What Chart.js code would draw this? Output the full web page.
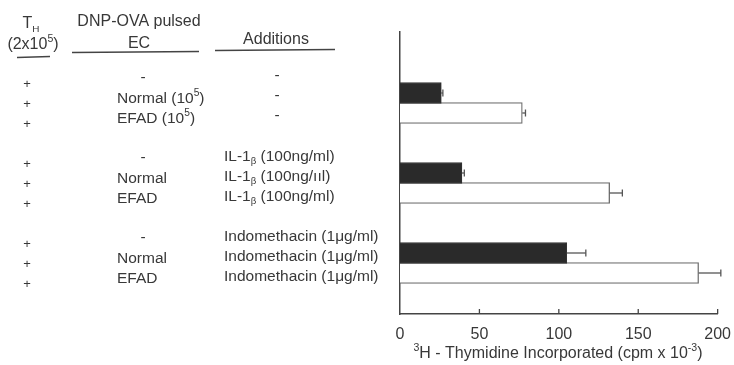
<!DOCTYPE html>
<html lang="en">
<head>
  <meta charset="UTF-8">
  <title>Thymidine incorporation</title>
  <script src="https://cdn.jsdelivr.net/npm/chart.js"></script>
  <style>
    html, body { margin: 0; padding: 0; background: #fff; }
    #wrap { width: 734px; height: 365px; position: relative; }
  </style>
</head>
<body>
  <div id="wrap"><canvas id="thyChart" width="734" height="365"></canvas></div>

  <script>
    // rows of the table (blank rows separate the three blocks)
    const thCells = ['+', '+', '+', '', '+', '+', '+', '', '+', '+', '+'];
    const ecCells = ['-', 'Normal (10^{5})', 'EFAD (10^{5})', '',
                     '-', 'Normal', 'EFAD', '',
                     '-', 'Normal', 'EFAD'];
    const additionCells = ['-', '-', '-', '',
                           'IL-1_{β} (100ng/ml)', 'IL-1_{β} (100ng/\u0131\u0131l)', 'IL-1_{β} (100ng/ml)', '',
                           'Indomethacin (1μg/ml)', 'Indomethacin (1μg/ml)', 'Indomethacin (1μg/ml)'];

    // cpm x 10^-3
    const normalEcCpm = [null, 26, null, null, null, 39, null, null, null, 105, null];
    const normalEcErr = [null, 1, null, null, null, 1.5, null, null, null, 12, null];
    const efadEcCpm = [null, null, 77, null, null, null, 132, null, null, null, 188];
    const efadEcErr = [null, null, 2, null, null, null, 8, null, null, null, 14];

    const xTicks = [0, 50, 100, 150, 200];
    const xTitle = '^{3}H - Thymidine Incorporated (cpm x 10^{-3})';

    const FONT = '"Liberation Sans", Arial, sans-serif';
    const INK = '#383838';

    function toPoints(values) {
      const pts = [];
      values.forEach((v, i) => { if (v !== null) pts.push({ x: v, y: i }); });
      return pts;
    }

    // text with ^{..} superscripts and _{..} subscripts
    function drawRich(ctx, str, x, y, align, size) {
      const parts = str.split(/(\^\{[^}]*\}|_\{[^}]*\})/).filter(Boolean).map(p => {
        if (p.startsWith('^{')) return { t: p.slice(2, -1), dy: -size * 0.38, s: size * 0.66 };
        if (p.startsWith('_{')) return { t: p.slice(2, -1), dy: size * 0.3, s: size * 0.62 };
        return { t: p, dy: 0, s: size };
      });
      let total = 0;
      parts.forEach(p => {
        ctx.font = p.s + 'px ' + FONT;
        p.w = ctx.measureText(p.t).width;
        total += p.w;
      });
      let cx = x;
      if (align === 'center') cx = x - total / 2;
      else if (align === 'right') cx = x - total;
      ctx.textAlign = 'left';
      ctx.textBaseline = 'middle';
      parts.forEach(p => {
        ctx.font = p.s + 'px ' + FONT;
        ctx.fillText(p.t, cx, y + p.dy);
        cx += p.w;
      });
    }

    function line(ctx, x1, y1, x2, y2) {
      ctx.beginPath();
      ctx.moveTo(x1, y1);
      ctx.lineTo(x2, y2);
      ctx.stroke();
    }

    const errorBars = {
      id: 'errorBars',
      afterDatasetsDraw(chart) {
        const ctx = chart.ctx;
        const xs = chart.scales.x, ys = chart.scales.y;
        const sets = [[normalEcCpm, normalEcErr], [efadEcCpm, efadEcErr]];
        ctx.save();
        ctx.strokeStyle = '#555';
        ctx.lineWidth = 1.3;
        sets.forEach(([vals, errs]) => {
          vals.forEach((v, i) => {
            if (v === null || !errs[i]) return;
            const y = ys.getPixelForValue(i);
            const x0 = xs.getPixelForValue(v);
            const x1 = xs.getPixelForValue(v + errs[i]);
            line(ctx, x0, y, x1, y);
            line(ctx, x1, y - 3.5, x1, y + 3.5);
          });
        });
        ctx.restore();
      }
    };

    const tableText = {
      id: 'tableText',
      afterDraw(chart) {
        const ctx = chart.ctx;
        const xs = chart.scales.x, ys = chart.scales.y;
        ctx.save();
        ctx.fillStyle = INK;
        ctx.strokeStyle = '#444';
        ctx.lineWidth = 1.3;

        // column headers
        drawRich(ctx, 'T_{H}', 31, 24, 'center', 16);
        drawRich(ctx, '(2x10^{5})', 33, 45, 'center', 16);
        line(ctx, 17, 57.5, 50, 56.5);
        drawRich(ctx, 'DNP-OVA pulsed', 139, 22, 'center', 16);
        drawRich(ctx, 'EC', 139, 44, 'center', 16);
        line(ctx, 72, 52.5, 199, 51.5);
        drawRich(ctx, 'Additions', 276, 40, 'center', 16);
        line(ctx, 215, 50.5, 335, 49.5);

        // table rows, aligned to the bar rows
        thCells.forEach((t, i) => {
          if (!t) return;
          const y = ys.getPixelForValue(i);
          drawRich(ctx, t, 27, y + 11, 'center', 13);
          const ec = ecCells[i];
          if (ec === '-') drawRich(ctx, ec, 143, y + 5, 'center', 15.5);
          else drawRich(ctx, ec, 117, y + 6, 'left', 15.5);
          const ad = additionCells[i];
          if (ad === '-') drawRich(ctx, ad, 277, y + 3, 'center', 15.5);
          else drawRich(ctx, ad, 224, y + 4, 'left', 15.5);
        });

        // inward tick marks on the x axis
        const bottom = chart.chartArea.bottom;
        xTicks.forEach(v => {
          if (v === 0) return;
          const x = xs.getPixelForValue(v);
          line(ctx, x, bottom, x, bottom - 5);
        });

        // axis title
        drawRich(ctx, xTitle, 558, 354, 'center', 16);
        ctx.restore();
      }
    };

    const ctx = document.getElementById('thyChart').getContext('2d');
    new Chart(ctx, {
      type: 'bar',
      data: {
        datasets: [{
          label: 'Normal EC',
          data: toPoints(normalEcCpm),
          backgroundColor: '#2a2a2a',
          borderColor: '#333',
          borderWidth: 1,
          barThickness: 21,
          grouped: false
        }, {
          label: 'EFAD EC',
          data: toPoints(efadEcCpm),
          backgroundColor: '#ffffff',
          borderColor: '#6e6e6e',
          borderWidth: 1.3,
          barThickness: 21,
          grouped: false
        }]
      },
      options: {
        indexAxis: 'y',
        responsive: false,
        animation: false,
        layout: { padding: { left: 400, right: 15, top: 32, bottom: 0 } },
        plugins: { legend: { display: false }, tooltip: { enabled: false } },
        scales: {
          x: {
            type: 'linear',
            min: 0,
            max: 200,
            afterBuildTicks: s => { s.ticks = xTicks.map(v => ({ value: v })); },
            afterFit: s => { s.height = 51; },
            grid: { display: false },
            border: { display: true, color: '#444', width: 1.5 },
            ticks: { color: INK, padding: 3, font: { family: FONT, size: 16 } }
          },
          y: {
            type: 'linear',
            reverse: true,
            offset: false,
            min: -2.05,
            max: 12.05,
            afterFit: s => { s.width = 0; },
            grid: { display: false, offset: false },
            border: { display: true, color: '#444', width: 1.5 },
            ticks: { display: false }
          }
        }
      },
      plugins: [errorBars, tableText]
    });
  </script>
</body>
</html>
